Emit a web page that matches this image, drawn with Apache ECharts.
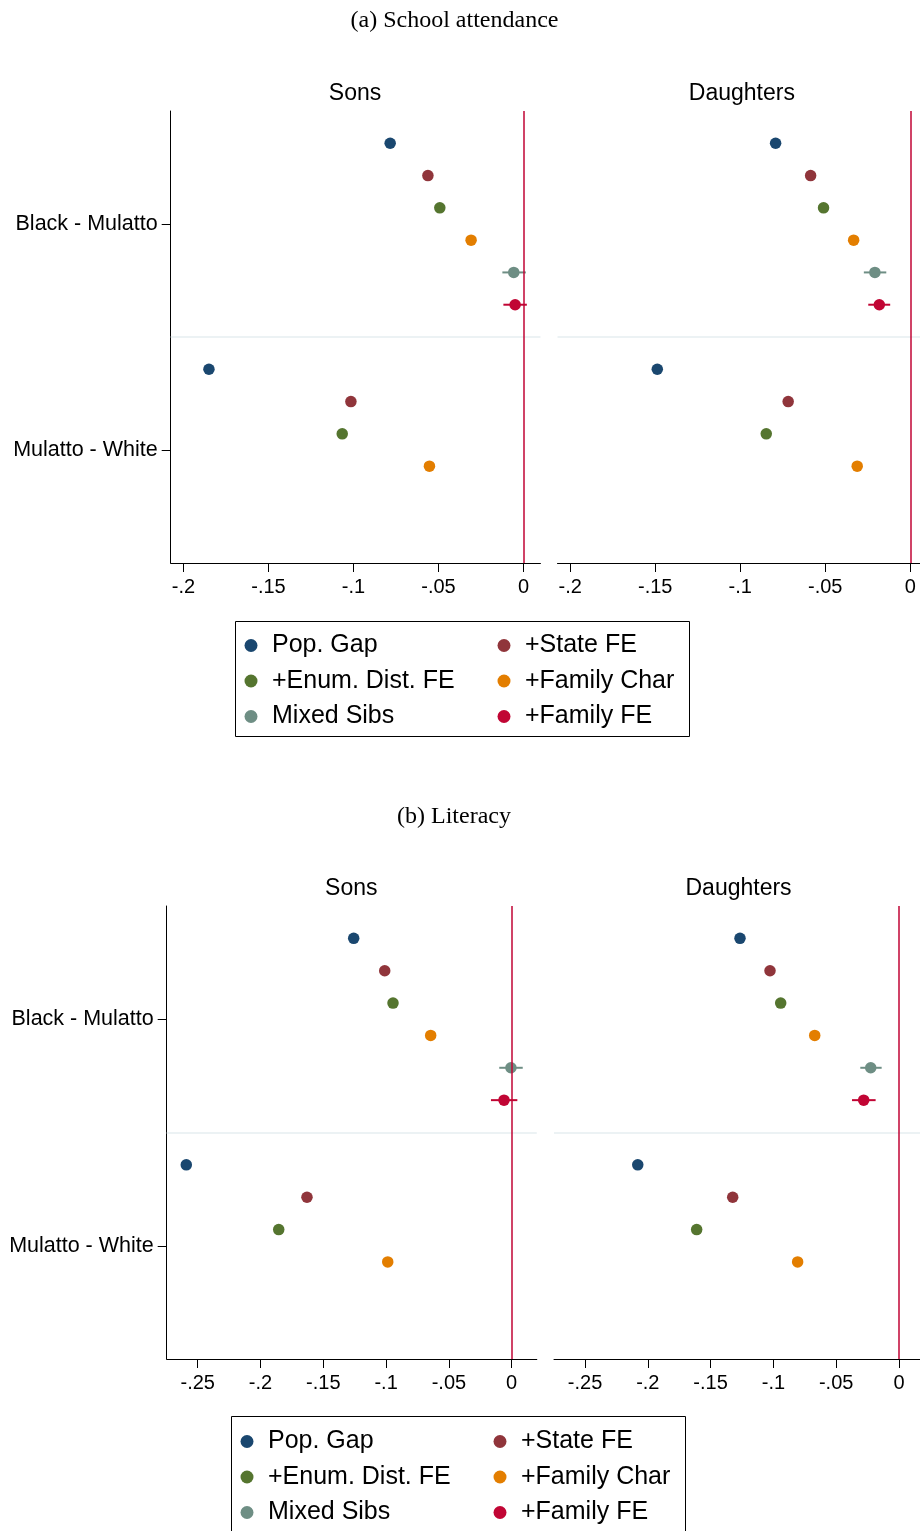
<!DOCTYPE html>
<html>
<head>
<meta charset="utf-8">
<script src="https://cdn.jsdelivr.net/npm/echarts@6/dist/echarts.min.js"></script>
<style>
  html, body { margin: 0; padding: 0; background: #fff; overflow: hidden; }
  #chart { width: 950px; height: 1531px; }
</style>
</head>
<body>
<div id="chart"></div>
<script>
// ---------- data ----------
const models = ['Pop. Gap', '+State FE', '+Enum. Dist. FE', '+Family Char', 'Mixed Sibs', '+Family FE'];
const modelColors = ['#1a476f', '#90353b', '#55752f', '#e37e00', '#6e8e84', '#c10534'];
const comparisons = ['Black - Mulatto', 'Mulatto - White'];
const panelTitles = ['(a) School attendance', '(b) Literacy'];
const groupTitles = ['Sons', 'Daughters'];

// (a) School attendance
const attendSonsBM      = [-0.0784, -0.0562, -0.0492, -0.0308, -0.0057, -0.0049];
const attendSonsBMLo    = [null, null, null, null, -0.0124, -0.0118];
const attendSonsBMHi    = [null, null, null, null,  0.0014,  0.0020];
const attendSonsMW      = [-0.1850, -0.1015, -0.1066, -0.0553];
const attendDaughtersBM   = [-0.0792, -0.0586, -0.0510, -0.0333, -0.0208, -0.0182];
const attendDaughtersBMLo = [null, null, null, null, -0.0273, -0.0247];
const attendDaughtersBMHi = [null, null, null, null, -0.0141, -0.0118];
const attendDaughtersMW   = [-0.1488, -0.0718, -0.0847, -0.0312];

// (b) Literacy
const litSonsBM      = [-0.1258, -0.1011, -0.0945, -0.0645, -0.0006, -0.0061];
const litSonsBMLo    = [null, null, null, null, -0.0099, -0.0165];
const litSonsBMHi    = [null, null, null, null,  0.0088,  0.0045];
const litSonsMW      = [-0.2591, -0.1630, -0.1855, -0.0987];
const litDaughtersBM   = [-0.1266, -0.1027, -0.0942, -0.0671, -0.0225, -0.0281];
const litDaughtersBMLo = [null, null, null, null, -0.0308, -0.0374];
const litDaughtersBMHi = [null, null, null, null, -0.0138, -0.0186];
const litDaughtersMW   = [-0.2080, -0.1324, -0.1611, -0.0807];

const attendTicks = [-0.2, -0.15, -0.1, -0.05, 0];
const litTicks = [-0.25, -0.2, -0.15, -0.1, -0.05, 0];
const attendRange = [-0.2075, 0.01];
const litRange = [-0.2747, 0.02];

// ---------- layout ----------
const SANS = 'Liberation Sans, Arial, sans-serif';
const SERIF = 'Liberation Serif, Times New Roman, serif';
const SLOTS = 14;          // vertical slots per panel
const GROUP_STEP = 7;      // slots per comparison group
const SEPARATOR = 7;
const groupCenters = [3.5, 10.5];

const panels = [
  { title: panelTitles[0], titleX: 454.5, titleY: 21, ticks: attendTicks, range: attendRange,
    grids: [
      { left: 170.7, top: 111, width: 369.75, height: 452,
        bm: attendSonsBM, lo: attendSonsBMLo, hi: attendSonsBMHi, mw: attendSonsMW },
      { left: 557.5, top: 111, width: 369.75, height: 452,
        bm: attendDaughtersBM, lo: attendDaughtersBMLo, hi: attendDaughtersBMHi, mw: attendDaughtersMW }
    ],
    legendTop: 633, legendLeft: [244.5, 497.5], box: [235.5, 621.5, 454, 115] },
  { title: panelTitles[1], titleX: 454, titleY: 817, ticks: litTicks, range: litRange,
    grids: [
      { left: 166.7, top: 906, width: 370.1, height: 453,
        bm: litSonsBM, lo: litSonsBMLo, hi: litSonsBMHi, mw: litSonsMW },
      { left: 554, top: 906, width: 370.1, height: 453,
        bm: litDaughtersBM, lo: litDaughtersBMLo, hi: litDaughtersBMHi, mw: litDaughtersMW }
    ],
    legendTop: 1429, legendLeft: [240.5, 493.5], box: [231.5, 1416.5, 454, 130] }
];

function fmtTick(v) {
  if (Math.abs(v) < 1e-9) return '0';
  const s = String(+Math.abs(v).toFixed(4)).replace(/^0/, '');
  return (v < 0 ? '-' : '') + s;
}

const grid = [], xAxis = [], yAxis = [], series = [], legend = [], graphic = [];
let gi = 0;
panels.forEach((p) => {
  graphic.push({ type: 'text', x: p.titleX, y: p.titleY, silent: true,
    style: { text: p.title, fontFamily: SERIF, fontSize: 24, fill: '#000',
      textAlign: 'center', textVerticalAlign: 'middle' } });
  p.grids.forEach((g, k) => {
    grid.push({ left: g.left, top: g.top, width: g.width, height: g.height, containLabel: false });
    graphic.push({ type: 'text', x: g.left + g.width / 2 - 0.5, y: g.top - 17, silent: true,
      style: { text: groupTitles[k], fontFamily: SANS, fontSize: 23, fill: '#000',
        textAlign: 'center', textVerticalAlign: 'middle' } });
    xAxis.push({
      type: 'value', gridIndex: gi, min: p.range[0], max: p.range[1],
      axisLine: { show: true, onZero: false, lineStyle: { color: '#000', width: 1 } },
      axisTick: { show: true, length: 9, customValues: p.ticks, lineStyle: { color: '#000', width: 1 } },
      axisLabel: { customValues: p.ticks, formatter: fmtTick, fontFamily: SANS, fontSize: 20,
        color: '#000', margin: 14 },
      splitLine: { show: false }
    });
    yAxis.push({
      type: 'value', gridIndex: gi, min: 0, max: SLOTS, inverse: true, show: k === 0,
      axisLine: { show: true, onZero: false, lineStyle: { color: '#000', width: 1 } },
      axisTick: { show: true, length: 9, customValues: groupCenters, lineStyle: { color: '#000', width: 1 } },
      axisLabel: { customValues: groupCenters, formatter: (v) => comparisons[v < SEPARATOR ? 0 : 1],
        fontFamily: SANS, fontSize: 21.5, color: '#000', margin: 13, padding: [4, 0, 0, 0] },
      splitLine: { show: false }
    });
    // reference lines
    series.push({
      type: 'line', xAxisIndex: gi, yAxisIndex: gi, data: [], silent: true, z: 1,
      markLine: { silent: true, symbol: 'none', animation: false, label: { show: false },
        data: [
          { yAxis: SEPARATOR, lineStyle: { color: '#e6eef1', width: 1.5, type: 'solid' } },
          { xAxis: 0, lineStyle: { color: '#c10534', width: 1.5, type: 'solid' } }
        ] }
    });
    // confidence intervals
    const ciData = [];
    g.lo.forEach((lo, m) => {
      if (lo !== null) ciData.push([lo, g.hi[m], m + 1, m]);
    });
    series.push({
      type: 'custom', xAxisIndex: gi, yAxisIndex: gi, z: 3, silent: true,
      encode: { x: [0, 1], y: 2 },
      data: ciData,
      renderItem: (params, api) => {
        const a = api.coord([api.value(0), api.value(2)]);
        const b = api.coord([api.value(1), api.value(2)]);
        return { type: 'line', shape: { x1: a[0], y1: a[1], x2: b[0], y2: b[1] },
          style: { stroke: modelColors[api.value(3)], lineWidth: 2 } };
      }
    });
    // point estimates
    models.forEach((name, m) => {
      const pts = [];
      if (g.bm[m] !== undefined) pts.push([g.bm[m], m + 1]);
      if (g.mw[m] !== undefined) pts.push([g.mw[m], GROUP_STEP + m + 1]);
      series.push({
        type: 'scatter', name, xAxisIndex: gi, yAxisIndex: gi, z: 4,
        symbol: 'circle', symbolSize: 11.5, data: pts,
        itemStyle: { color: modelColors[m], opacity: 1 }
      });
    });
    gi++;
  });
  const cols = [[models[0], models[2], models[4]], [models[1], models[3], models[5]]];
  cols.forEach((c, ci) => {
    legend.push({
      orient: 'vertical', left: p.legendLeft[ci], top: p.legendTop, data: c,
      icon: 'circle', itemWidth: 13, itemHeight: 13, itemGap: 10.5, padding: 0,
      textStyle: { fontFamily: SANS, fontSize: 25, color: '#000', lineHeight: 25, padding: [0, 0, 0, 9.5] },
      selectedMode: false
    });
  });
  graphic.push({ type: 'rect', shape: { x: p.box[0], y: p.box[1], width: p.box[2], height: p.box[3] },
    style: { fill: 'none', stroke: '#000', lineWidth: 1 }, silent: true });
});

const chart = echarts.init(document.getElementById('chart'), null, { renderer: 'canvas' });
chart.setOption({
  animation: false,
  backgroundColor: '#fff',
  grid, xAxis, yAxis, legend, graphic, series
});
</script>
</body>
</html>
